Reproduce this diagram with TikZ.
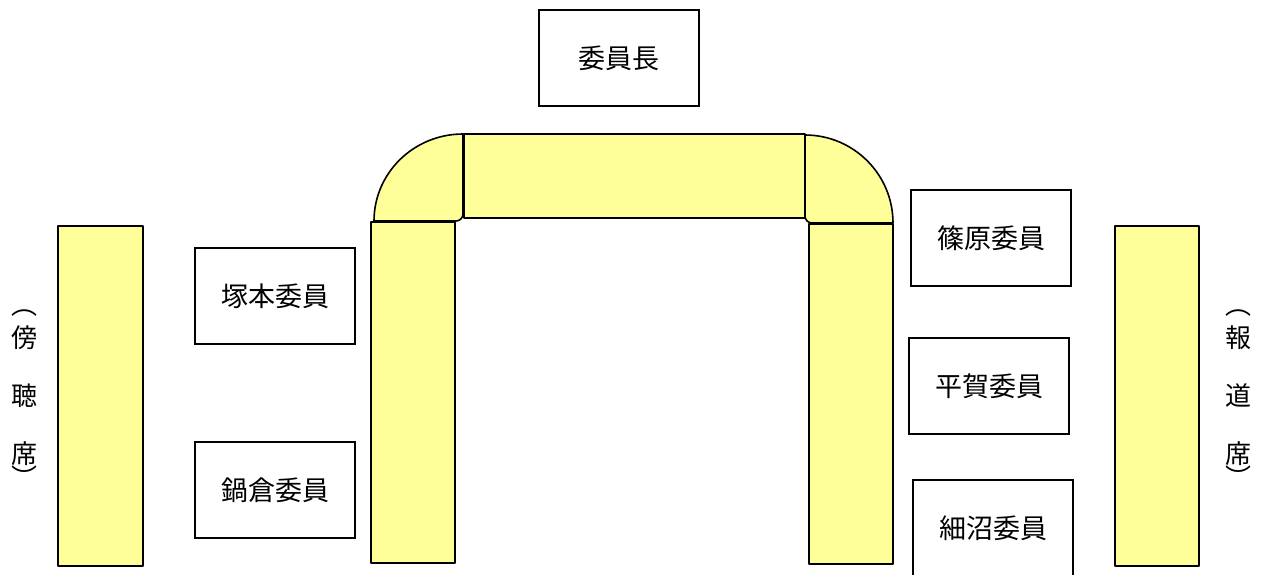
\documentclass[tikz,border=0pt]{standalone}
\usepackage{fontspec}
\newfontfamily\jp{Noto Sans CJK JP}
\definecolor{deskyellow}{RGB}{255,255,153}
\begin{document}
\begin{tikzpicture}[x=1pt,y=-1pt,
  desk/.style={draw=black,fill=deskyellow,line width=1.6pt,line join=round},
  seat/.style={draw=black,line width=1.3pt,minimum width=160pt,minimum height=96pt,inner sep=0pt,font=\jp\fontsize{27}{27}\selectfont},
  vtext/.style={inner sep=0pt,font=\jp\fontsize{26}{26}\selectfont}]
\useasboundingbox (0,0) rectangle (1262,574);
% corner pieces
\draw[desk] (374,221) arc[start angle=180,end angle=270,x radius=89,y radius=87]
  -- (463,214) arc[start angle=0,end angle=90,radius=7] -- cycle;
\draw[desk] (805,135) arc[start angle=270,end angle=360,x radius=88,y radius=88]
  -- (812,223) arc[start angle=90,end angle=180,radius=7] -- cycle;
% top table
\draw[desk] (464,134) rectangle (805,218);
% legs
\draw[desk] (371,222) rectangle (455,563);
\draw[desk] (809,224) rectangle (893,564);
% side seating columns
\draw[desk] (58,226) rectangle (143,566);
\draw[desk] (1115,226) rectangle (1199,566);
% member boxes
\node[seat] (chair) at (619,58) {委員長};
\node[seat] (tsukamoto) at (275,296) {塚本委員};
\node[seat] (nabekura) at (275,490) {鍋倉委員};
\node[seat] (shinohara) at (991,238) {篠原委員};
\node[seat] (hiraga) at (989,386) {平賀委員};
\node[seat] (hosonuma) at (993,528) {細沼委員};
% vertical labels
\node[vtext] (lp1) at (25,313) {︵};
\node[vtext] (l1) at (25,338) {傍};
\node[vtext] (l2) at (25,396) {聴};
\node[vtext] (l3) at (25,454) {席};
\node[vtext] (lp2) at (25,477) {︶};
\node[vtext] (rp1) at (1238,313) {︵};
\node[vtext] (r1) at (1238,338) {報};
\node[vtext] (r2) at (1238,396) {道};
\node[vtext] (r3) at (1238,454) {席};
\node[vtext] (rp2) at (1238,477) {︶};
\end{tikzpicture}
\end{document}
